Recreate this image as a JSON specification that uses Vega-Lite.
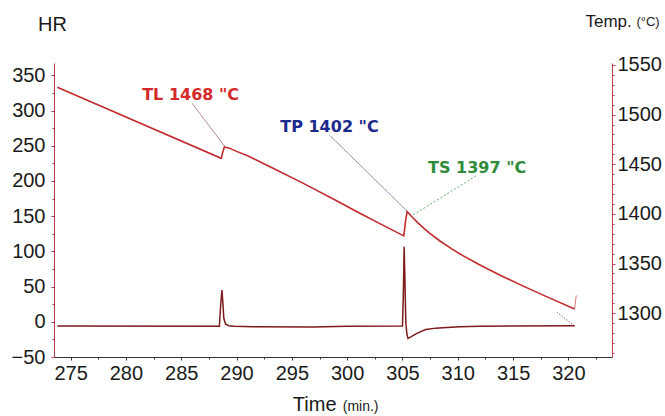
{
  "$schema": "https://vega.github.io/schema/vega-lite/v6.json",
  "width": 558,
  "height": 294,
  "autosize": {"type": "none"},
  "padding": {"left": 54, "top": 63, "right": 53, "bottom": 59},
  "background": "white",
  "config": {"view": {"stroke": null}, "font": "Liberation Sans"},
  "datasets": {
    "temp": [
      {"t": 273.8, "T": 1527.5}, {"t": 288.62, "T": 1456}, {"t": 288.75, "T": 1462},
      {"t": 288.9, "T": 1467.5}, {"t": 289.3, "T": 1466.5}, {"t": 290, "T": 1463},
      {"t": 291, "T": 1458.5}, {"t": 293.3, "T": 1446}, {"t": 296, "T": 1431},
      {"t": 299, "T": 1413.5}, {"t": 301.1, "T": 1401}, {"t": 303, "T": 1390},
      {"t": 305.12, "T": 1377.9}, {"t": 305.27, "T": 1392}, {"t": 305.42, "T": 1402.5},
      {"t": 305.62, "T": 1400}, {"t": 305.92, "T": 1396.4}, {"t": 306.42, "T": 1390.8},
      {"t": 306.92, "T": 1385.7}, {"t": 307.42, "T": 1381}, {"t": 308.42, "T": 1372.5},
      {"t": 309.42, "T": 1365}, {"t": 310.42, "T": 1358.2}, {"t": 311.92, "T": 1349},
      {"t": 313.92, "T": 1337.8}, {"t": 315.92, "T": 1327.3}, {"t": 317.92, "T": 1317.2},
      {"t": 320.56, "T": 1304.2}
    ],
    "hr": [
      {"t": 273.8, "HR": -6}, {"t": 288.45, "HR": -6.5}, {"t": 288.55, "HR": 20},
      {"t": 288.68, "HR": 45}, {"t": 288.76, "HR": 28}, {"t": 288.85, "HR": 5},
      {"t": 289.0, "HR": -3}, {"t": 289.3, "HR": -5.5}, {"t": 289.8, "HR": -6.5},
      {"t": 291.5, "HR": -7}, {"t": 297, "HR": -7.5}, {"t": 300, "HR": -6.2},
      {"t": 305.0, "HR": -6}, {"t": 305.08, "HR": 40}, {"t": 305.15, "HR": 106.5},
      {"t": 305.22, "HR": 60}, {"t": 305.3, "HR": 0}, {"t": 305.4, "HR": -18},
      {"t": 305.5, "HR": -23.5}, {"t": 305.8, "HR": -21}, {"t": 306.3, "HR": -16.5},
      {"t": 307.1, "HR": -11}, {"t": 308, "HR": -9}, {"t": 309, "HR": -8},
      {"t": 310.2, "HR": -7}, {"t": 312, "HR": -6.2}, {"t": 320.56, "HR": -5.7}
    ],
    "notes": [
      {"name": "TL", "text": "TL 1468 \"C", "t": 285.85, "T": 1519.8, "t2": 289.0, "T2": 1467, "ts": 285.98, "Ts": 1511.4},
      {"name": "TP", "text": "TP 1402 \"C", "t": 298.4, "T": 1487.8, "t2": 305.42, "T2": 1402.8, "ts": 298.4, "Ts": 1479.4},
      {"name": "TS", "text": "TS 1397 \"C", "t": 311.75, "T": 1446.5, "t2": 305.79, "T2": 1397.8, "ts": 311.66, "Ts": 1438.4}
    ]
  },
  "encoding": {
    "x": {
      "field": "t", "type": "quantitative",
      "scale": {"domain": [273.5, 323.94], "nice": false, "zero": false},
      "axis": {
        "values": [275, 277.5, 280, 282.5, 285, 287.5, 290, 292.5, 295, 297.5, 300, 302.5, 305, 307.5, 310, 312.5, 315, 317.5, 320, 322.5],
        "labelExpr": "datum.value % 5 === 0 ? datum.label : ''",
        "tickSize": {"condition": {"test": "datum.value % 5 !== 0", "value": 2}, "value": 3},
        "tickColor": "#333333", "domainColor": "#333333", "grid": false,
        "labelFont": "Liberation Sans", "labelFontSize": 20, "labelColor": "#1a1a1a",
        "labelPadding": 3, "labelFlush": false, "labelOverlap": false,
        "title": "Time", "titleFont": "Liberation Sans", "titleFontSize": 20,
        "titleFontWeight": "normal", "titleColor": "#1a1a1a",
        "titleAlign": "right", "titleBaseline": "alphabetic", "titleX": 282, "titleY": 53, "titleAngle": 0
      }
    }
  },
  "layer": [
    {
      "encoding": {
        "y": {
          "field": "T", "type": "quantitative",
          "scale": {"domain": [1255.9, 1552], "nice": false, "zero": false},
          "axis": {
            "orient": "right", "format": "d",
            "values": [1260, 1270, 1280, 1290, 1300, 1310, 1320, 1330, 1340, 1350, 1360, 1370, 1380, 1390, 1400, 1410, 1420, 1430, 1440, 1450, 1460, 1470, 1480, 1490, 1500, 1510, 1520, 1530, 1540, 1550],
            "labelExpr": "datum.value % 50 === 0 ? datum.label : ''",
            "tickSize": {"condition": {"test": "datum.value % 50 !== 0", "value": 2}, "value": 3},
            "tickColor": "#c0404e", "domainColor": "#c0404e", "grid": false,
            "labelFont": "Liberation Sans", "labelFontSize": 20, "labelColor": "#1a1a1a",
            "labelPadding": 2, "labelFlush": false, "labelOverlap": false,
            "title": "Temp.", "titleFont": "Liberation Sans", "titleFontSize": 17,
            "titleFontWeight": "normal", "titleColor": "#1a1a1a",
            "titleAngle": 0, "titleAlign": "left", "titleBaseline": "alphabetic",
            "titleX": -27, "titleY": -37
          }
        }
      },
      "layer": [
        {
          "data": {"name": "temp"},
          "mark": {"type": "line", "color": "#c22a2e", "strokeWidth": 1.6}
        },
        {
          "data": {"name": "notes"},
          "mark": {"type": "rule", "strokeWidth": 0.8},
          "encoding": {
            "x": {"field": "ts", "type": "quantitative"},
            "y": {"field": "Ts", "type": "quantitative"},
            "x2": {"field": "t2"},
            "y2": {"field": "T2"},
            "color": {"field": "name", "type": "nominal", "scale": {"domain": ["TL", "TP", "TS"], "range": ["#9a5a5a", "#5a6a9a", "#3a9a4a"]}, "legend": null},
            "strokeDash": {"field": "name", "type": "nominal", "scale": {"domain": ["TL", "TP", "TS"], "range": [[1, 0], [1, 0], [2, 2]]}, "legend": null}
          }
        },
        {
          "data": {"name": "notes"},
          "mark": {"type": "text", "font": "DejaVu Sans", "fontSize": 16, "fontWeight": "bold", "align": "center", "baseline": "middle"},
          "encoding": {
            "text": {"field": "text"},
            "color": {"field": "name", "type": "nominal", "scale": {"domain": ["TL", "TP", "TS"], "range": ["#d42a2a", "#1c2a8c", "#2e8b3a"]}, "legend": null}
          }
        },
        {
          "data": {"values": [{"t": 320.56, "T": 1304, "t2": 320.71, "T2": 1318}]},
          "mark": {"type": "rule", "color": "#c04040", "strokeWidth": 0.7},
          "encoding": {"y2": {"field": "T2"}, "x2": {"field": "t2"}}
        },
        {
          "data": {"values": [{"t": 326.15, "T": 1589.3, "text": "(°C)"}]},
          "mark": {"type": "text", "font": "Liberation Sans", "fontSize": 13, "align": "left", "baseline": "alphabetic", "color": "#1a1a1a"},
          "encoding": {"text": {"field": "text"}}
        },
        {
          "data": {"values": [{"t": 299.6, "T": 1201.2, "text": "(min.)"}]},
          "mark": {"type": "text", "font": "Liberation Sans", "fontSize": 14, "align": "left", "baseline": "alphabetic", "color": "#1a1a1a"},
          "encoding": {"text": {"field": "text"}}
        }
      ],
      "resolve": {"scale": {"color": "independent"}}
    },
    {
      "encoding": {
        "y": {
          "field": "HR", "type": "quantitative",
          "scale": {"domain": [-50, 367.5], "nice": false, "zero": false},
          "axis": {
            "orient": "left",
            "values": [-50, -25, 0, 25, 50, 75, 100, 125, 150, 175, 200, 225, 250, 275, 300, 325, 350],
            "labelExpr": "datum.value % 50 === 0 ? datum.label : ''",
            "tickSize": {"condition": {"test": "datum.value % 50 !== 0", "value": 2}, "value": 3},
            "tickColor": "#b04050", "domainColor": "#b04050", "grid": false,
            "labelFont": "Liberation Sans", "labelFontSize": 20, "labelColor": "#1a1a1a",
            "labelPadding": 6, "labelFlush": false, "labelOverlap": false,
            "title": "HR", "titleFont": "Liberation Sans", "titleFontSize": 20,
            "titleFontWeight": "normal", "titleColor": "#1a1a1a",
            "titleAngle": 0, "titleAlign": "center", "titleBaseline": "alphabetic",
            "titleX": -2, "titleY": -33
          }
        }
      },
      "layer": [
        {
          "data": {"name": "hr"},
          "mark": {"type": "line", "color": "#7e1a1c", "strokeWidth": 1.5}
        },
        {
          "data": {"values": [{"t": 320.56, "HR": -5.7, "t2": 318.9, "HR2": 14.2}]},
          "mark": {"type": "rule", "color": "#7e1a1c", "strokeWidth": 0.7, "strokeDash": [1.5, 1.5]},
          "encoding": {"y2": {"field": "HR2"}, "x2": {"field": "t2"}}
        }
      ]
    }
  ],
  "resolve": {"scale": {"y": "independent", "color": "independent", "strokeDash": "independent"}}
}
